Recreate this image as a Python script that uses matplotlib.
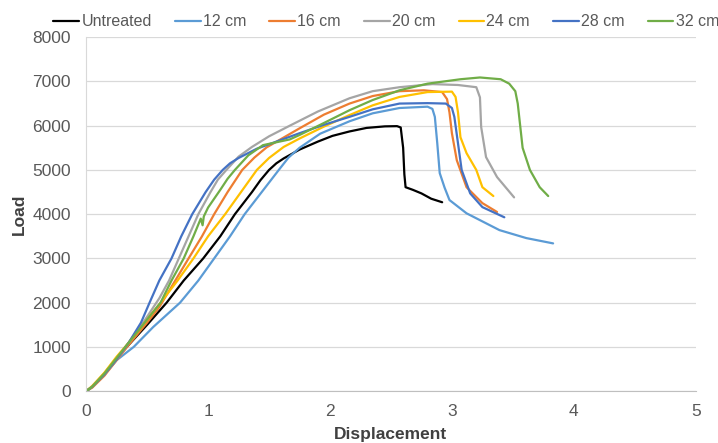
import matplotlib
matplotlib.use("Agg")
import matplotlib.pyplot as plt

plt.rcParams['font.family'] = ['Liberation Sans', 'DejaVu Sans']

# Displacement / load
untreated_x = [0, 0.05, 0.15, 0.25, 0.35, 0.5, 0.66, 0.8, 0.96, 1.1, 1.22, 1.36, 1.43, 1.5, 1.56, 1.62, 1.75, 1.9, 2.02, 2.16, 2.3, 2.45, 2.55, 2.58, 2.6, 2.61, 2.62, 2.68, 2.75, 2.83, 2.92]
untreated_y = [0, 100, 400, 750, 1050, 1500, 2000, 2500, 3000, 3500, 4000, 4500, 4770, 5000, 5150, 5260, 5460, 5640, 5770, 5870, 5950, 5985, 5990, 5960, 5500, 4900, 4610, 4550, 4470, 4350, 4270]

cm12_x = [0, 0.05, 0.15, 0.25, 0.39, 0.55, 0.77, 0.92, 1.05, 1.18, 1.3, 1.44, 1.58, 1.66, 1.75, 1.92, 2.16, 2.35, 2.57, 2.8, 2.84, 2.86, 2.88, 2.9, 2.94, 2.98, 3.12, 3.39, 3.61, 3.83]
cm12_y = [0, 100, 380, 700, 1000, 1450, 2000, 2500, 3000, 3500, 4000, 4500, 5000, 5280, 5500, 5820, 6100, 6280, 6400, 6430, 6380, 6200, 5600, 4930, 4600, 4320, 4020, 3640, 3460, 3340]

cm16_x = [0, 0.05, 0.15, 0.25, 0.35, 0.5, 0.6, 0.72, 0.84, 0.95, 1.05, 1.16, 1.28, 1.38, 1.48, 1.75, 1.95, 2.16, 2.35, 2.57, 2.77, 2.92, 2.96, 2.98, 3.0, 3.04, 3.12, 3.25, 3.37]
cm16_y = [0, 80, 350, 700, 1050, 1550, 1900, 2450, 3000, 3500, 4000, 4500, 5000, 5280, 5510, 5940, 6250, 6500, 6670, 6780, 6800, 6760, 6600, 6300, 5830, 5220, 4610, 4250, 4050]

cm20_x = [0, 0.05, 0.15, 0.25, 0.35, 0.48, 0.6, 0.68, 0.76, 0.84, 0.92, 1.02, 1.08, 1.15, 1.25, 1.36, 1.5, 1.67, 1.9, 2.16, 2.35, 2.57, 2.84, 3.05, 3.2, 3.23, 3.24, 3.28, 3.37, 3.51]
cm20_y = [0, 100, 380, 720, 1100, 1600, 2100, 2500, 3000, 3500, 4000, 4500, 4780, 5000, 5300, 5520, 5760, 6000, 6320, 6620, 6780, 6870, 6940, 6920, 6870, 6640, 5970, 5290, 4840, 4380]

cm24_x = [0, 0.05, 0.15, 0.25, 0.35, 0.48, 0.61, 0.75, 0.88, 1.0, 1.14, 1.27, 1.4, 1.5, 1.62, 1.75, 1.95, 2.16, 2.35, 2.57, 2.8, 3.0, 3.03, 3.05, 3.07, 3.12, 3.2, 3.25, 3.34]
cm24_y = [0, 120, 420, 780, 1100, 1550, 2000, 2500, 3000, 3500, 4000, 4500, 5000, 5270, 5520, 5710, 5980, 6240, 6460, 6650, 6760, 6770, 6650, 6300, 5740, 5380, 5000, 4610, 4410]

cm28_x = [0, 0.05, 0.15, 0.25, 0.35, 0.45, 0.52, 0.6, 0.7, 0.78, 0.87, 0.98, 1.05, 1.12, 1.18, 1.25, 1.4, 1.57, 1.75, 1.95, 2.16, 2.35, 2.57, 2.8, 2.95, 3.0, 3.02, 3.05, 3.08, 3.15, 3.25, 3.43]
cm28_y = [0, 100, 380, 720, 1100, 1550, 2000, 2500, 3000, 3500, 4000, 4500, 4780, 5000, 5150, 5270, 5480, 5650, 5830, 6020, 6200, 6370, 6500, 6510, 6500, 6400, 6200, 5600, 5000, 4470, 4160, 3930]

cm32_x = [0, 0.05, 0.15, 0.25, 0.35, 0.48, 0.61, 0.7, 0.8, 0.88, 0.94, 0.955, 0.965, 1.0, 1.1, 1.16, 1.22, 1.28, 1.33, 1.45, 1.55, 1.67, 1.75, 1.92, 2.16, 2.35, 2.57, 2.8, 3.07, 3.23, 3.4, 3.47, 3.52, 3.54, 3.56, 3.58, 3.64, 3.72, 3.79]
cm32_y = [0, 100, 400, 750, 1100, 1550, 2000, 2500, 3000, 3500, 3900, 3750, 3950, 4150, 4550, 4800, 5000, 5180, 5330, 5560, 5620, 5690, 5790, 6020, 6350, 6580, 6800, 6950, 7050, 7090, 7050, 6950, 6780, 6500, 6000, 5500, 5000, 4610, 4410]

names = ['Untreated', '12 cm', '16 cm', '20 cm', '24 cm', '28 cm', '32 cm']
colors = ['#000000', '#5B9BD5', '#ED7D31', '#A5A5A5', '#FFC000', '#4472C4', '#70AD47']
series = [(untreated_x, untreated_y), (cm12_x, cm12_y), (cm16_x, cm16_y), (cm20_x, cm20_y),
          (cm24_x, cm24_y), (cm28_x, cm28_y), (cm32_x, cm32_y)]

fig = plt.figure(figsize=(7.18, 4.43), dpi=100)
ax = fig.add_axes([0.12, 0.117, 0.849, 0.799])

for (xs, ys), name, c in zip(series, names, colors):
    ax.plot(xs, ys, color=c, lw=1.6, label=name, solid_joinstyle='round', solid_capstyle='round')

ax.set_xlim(0, 5)
ax.set_ylim(0, 8000)
ax.set_xticks(range(0, 6))
ax.set_yticks(range(0, 8001, 1000))
ax.grid(axis='y', color='#d9d9d9', lw=0.9)
ax.set_axisbelow(True)
for s in ['top', 'right']:
    ax.spines[s].set_visible(False)
ax.spines['left'].set_color('#d9d9d9')
ax.spines['bottom'].set_color('#bfbfbf')
ax.tick_params(length=0, labelsize=12.5, labelcolor='#595959')
ax.tick_params(axis='x', pad=9)
ax.tick_params(axis='y', pad=11)
ax.set_xlabel('Displacement', fontsize=12.5, fontweight='bold', color='#404040', labelpad=6)
ax.set_ylabel('Load', fontsize=12.5, fontweight='bold', color='#404040', labelpad=4)

fig.legend(loc='upper center', bbox_to_anchor=(0.538, 1.0), ncol=7, frameon=False,
           fontsize=11.5, handlelength=1.6, handletextpad=0.15, columnspacing=1.45,
           labelcolor='#595959')

fig.savefig('out.png', dpi=100)
